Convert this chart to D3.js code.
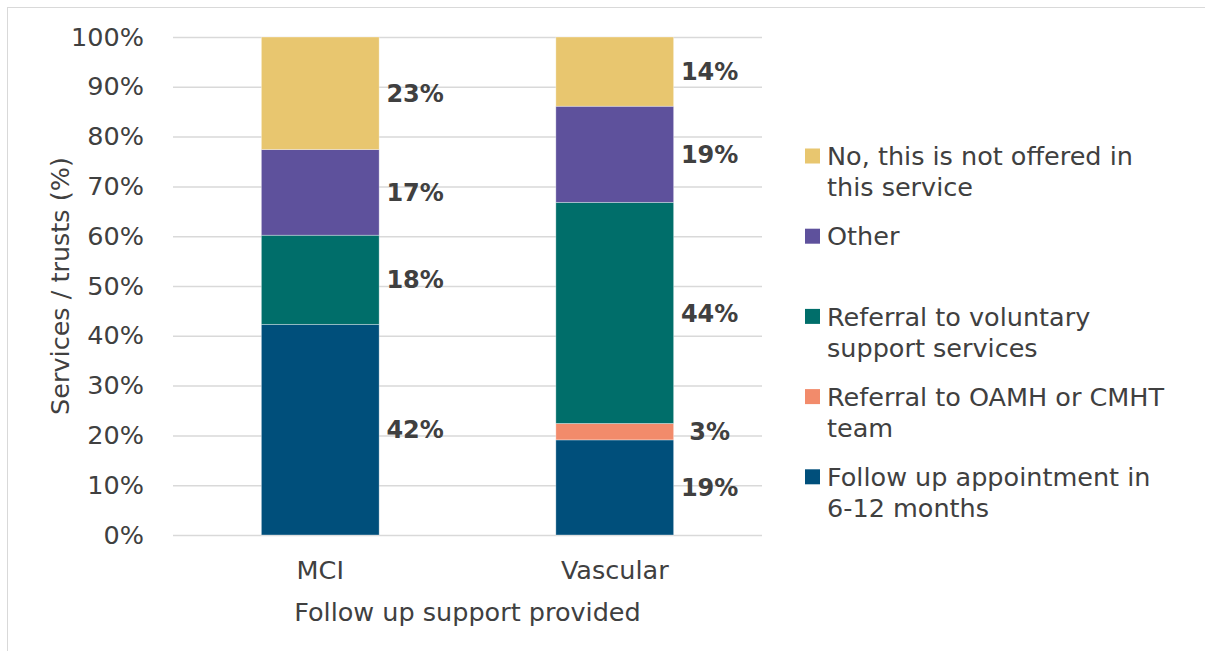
<!DOCTYPE html>
<html>
<head>
<meta charset="utf-8">
<script src="https://cdn.jsdelivr.net/npm/d3@7.9.0/dist/d3.min.js"></script>
<style>
  html, body { margin: 0; padding: 0; background: #fff; }
  svg { display: block; font-family: "DejaVu Sans", sans-serif; }
</style>
</head>
<body>
<svg id="chart"></svg>
<script>
const categories = ['MCI', 'Vascular'];
const seriesKeys = ['followUp', 'oamh', 'voluntary', 'other', 'notOffered'];
const seriesLabels = [
  ['Follow up appointment in', '6-12 months'],
  ['Referral to OAMH or CMHT', 'team'],
  ['Referral to voluntary', 'support services'],
  ['Other'],
  ['No, this is not offered in', 'this service'],
];
const seriesColors = ['#004f7b', '#f28b6b', '#006e6a', '#5e519c', '#e8c66f'];

// percent of services / trusts
const followUp = [42.3, 19.1];
const oamh = [0, 3.3];
const voluntary = [17.9, 44.4];
const other = [17.2, 19.3];
const notOffered = [22.6, 13.9];

const yTicks = [0, 10, 20, 30, 40, 50, 60, 70, 80, 90, 100];

const width = 1205;
const height = 651;
const plot = { left: 173, right: 762, top: 37, bottom: 535 };
const fontSize = 25.5;
const textColor = '#404040';

const rows = categories.map((c, i) => ({
  category: c,
  followUp: followUp[i],
  oamh: oamh[i],
  voluntary: voluntary[i],
  other: other[i],
  notOffered: notOffered[i],
}));

const stacked = d3.stack().keys(seriesKeys)(rows);

const svg = d3.select('#chart')
  .attr('width', width)
  .attr('height', height);

// outer frame (only top & left edges fall inside the picture)
svg.append('rect')
  .attr('x', 7.5).attr('y', 7.5)
  .attr('width', width + 20).attr('height', height + 20)
  .attr('fill', 'none')
  .attr('stroke', '#d9d9d9');

const xScale = d3.scaleBand()
  .domain(categories)
  .range([plot.left, plot.right])
  .paddingInner(0.6)
  .paddingOuter(0.3);

const yScale = d3.scaleLinear()
  .domain([0, 100])
  .range([plot.bottom, plot.top]);

// gridlines
svg.append('g')
  .attr('class', 'gridlines')
  .attr('transform', `translate(${plot.left}, 0)`)
  .call(d3.axisLeft(yScale).tickValues(yTicks).tickFormat('').tickSize(-(plot.right - plot.left)))
  .call(g => g.select('.domain').remove())
  .call(g => g.selectAll('line').attr('stroke', '#d9d9d9').attr('stroke-width', 1.5));

// y axis labels
svg.append('g')
  .attr('transform', `translate(${plot.left - 26}, 0)`)
  .call(d3.axisLeft(yScale).tickValues(yTicks).tickSize(0).tickFormat(d => d + '%'))
  .call(g => g.select('.domain').remove())
  .call(g => g.selectAll('text')
    .attr('fill', textColor)
    .attr('font-size', fontSize)
    .attr('font-family', '"DejaVu Sans", sans-serif'));

// x axis labels
svg.append('g')
  .attr('transform', `translate(0, ${plot.bottom + 23})`)
  .call(d3.axisBottom(xScale).tickSize(0))
  .call(g => g.select('.domain').remove())
  .call(g => g.selectAll('text')
    .attr('fill', textColor)
    .attr('font-size', fontSize)
    .attr('font-family', '"DejaVu Sans", sans-serif'));

// axis titles
svg.append('text')
  .attr('x', (plot.left + plot.right) / 2)
  .attr('y', 612)
  .attr('dy', '0.36em')
  .attr('text-anchor', 'middle')
  .attr('fill', textColor)
  .attr('font-size', fontSize)
  .text('Follow up support provided');

svg.append('text')
  .attr('transform', `translate(60, ${(plot.top + plot.bottom) / 2}) rotate(-90)`)
  .attr('dy', '0.36em')
  .attr('text-anchor', 'middle')
  .attr('fill', textColor)
  .attr('font-size', fontSize)
  .text('Services / trusts (%)');

// bars
const layers = svg.append('g').selectAll('g')
  .data(stacked)
  .join('g')
  .attr('fill', (d, i) => seriesColors[i]);

layers.selectAll('rect')
  .data(d => d)
  .join('rect')
  .attr('x', d => xScale(d.data.category))
  .attr('y', d => yScale(d[1]))
  .attr('width', xScale.bandwidth())
  .attr('height', d => yScale(d[0]) - yScale(d[1]))
  .attr('stroke', 'rgba(255,255,255,0.45)')
  .attr('stroke-width', 0.75);

// value labels to the right of each segment
layers.selectAll('text')
  .data(d => d.filter(s => s[1] - s[0] > 0))
  .join('text')
  .attr('x', d => xScale(d.data.category) + xScale.bandwidth() + 36)
  .attr('y', d => yScale((d[0] + d[1]) / 2))
  .attr('dy', '0.36em')
  .attr('text-anchor', 'middle')
  .attr('fill', textColor)
  .attr('font-size', 24)
  .attr('font-weight', 700)
  .text(d => Math.round(d[1] - d[0]) + '%');

// legend (reverse order, top to bottom)
const legendOrder = d3.range(seriesKeys.length).reverse();
const legend = svg.append('g')
  .selectAll('g')
  .data(legendOrder)
  .join('g')
  .attr('transform', (d, i) => `translate(805, ${156 + i * 80.2})`);

legend.append('rect')
  .attr('x', 0).attr('y', -7.5)
  .attr('width', 15).attr('height', 15)
  .attr('fill', d => seriesColors[d]);

legend.append('text')
  .attr('fill', textColor)
  .attr('font-size', fontSize)
  .selectAll('tspan')
  .data(d => seriesLabels[d])
  .join('tspan')
  .attr('x', 22)
  .attr('y', (d, i) => i * 31)
  .attr('dy', '0.36em')
  .text(d => d);
</script>
</body>
</html>
